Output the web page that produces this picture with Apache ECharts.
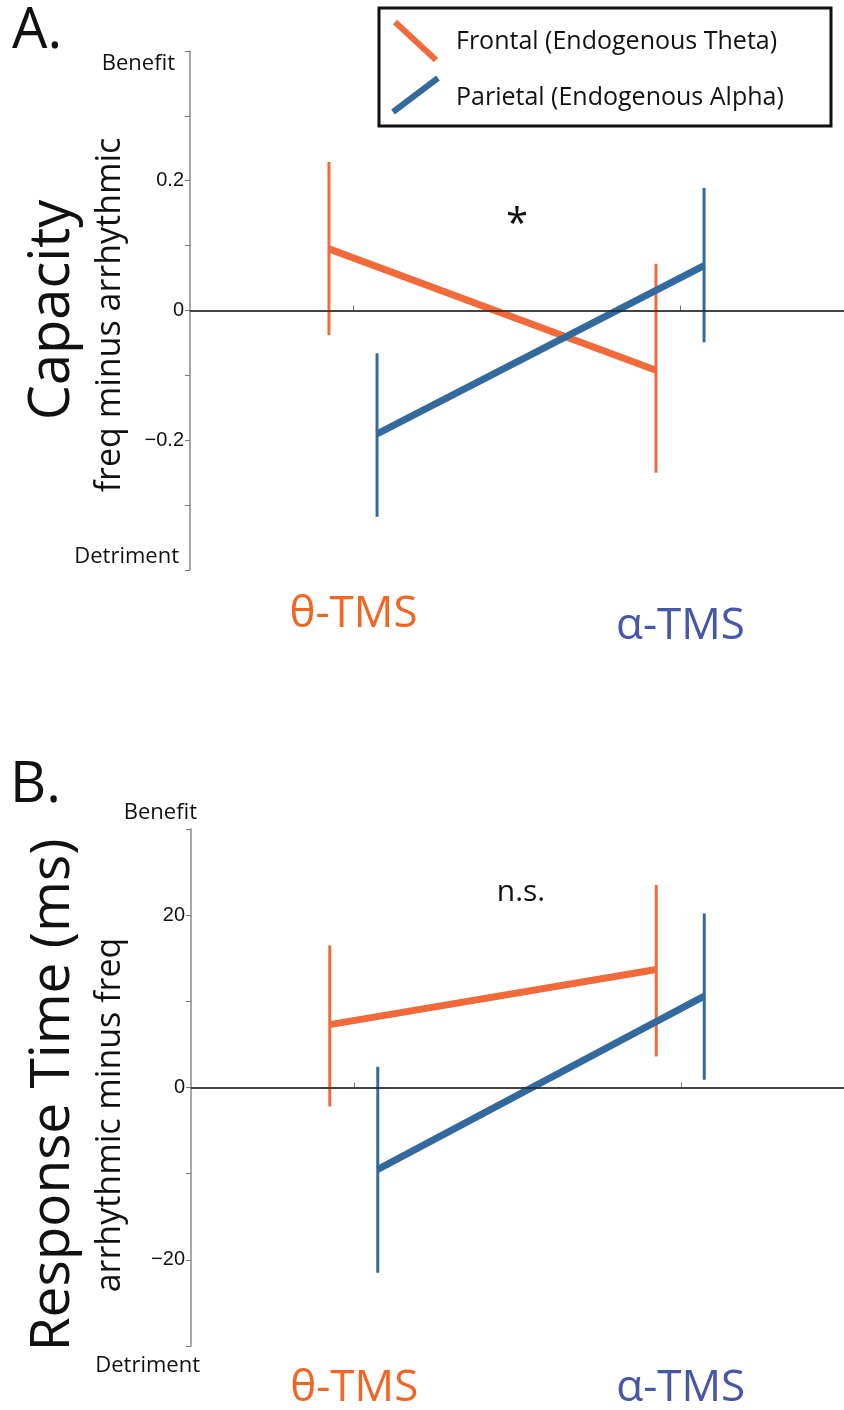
<!DOCTYPE html>
<html>
<head>
<meta charset="utf-8">
<script src="https://cdn.jsdelivr.net/npm/echarts@6/dist/echarts.min.js"></script>
<style>
  html, body { margin: 0; padding: 0; background: #fff; }
  #main { width: 844px; height: 1410px; }
</style>
</head>
<body>
<div id="main"></div>
<script>
// conditions on the x axis (1 = theta TMS, 2 = alpha TMS)
const conditions = ['θ-TMS', 'α-TMS'];
const conditionX = [1, 2];

// A. capacity, freq minus arrhythmic
const capFrontalMean = [0.095, -0.092];
const capFrontalLow = [-0.038, -0.25];
const capFrontalHigh = [0.229, 0.072];
const capParietalMean = [-0.19, 0.069];
const capParietalLow = [-0.318, -0.049];
const capParietalHigh = [-0.066, 0.189];
const capTickValues = [-0.2, 0, 0.2];
const capTickLabels = ['\u22120.2', '0', '0.2'];

// B. response time (ms), arrhythmic minus freq
const rtFrontalMean = [7.3, 13.7];
const rtFrontalLow = [-2.2, 3.6];
const rtFrontalHigh = [16.5, 23.5];
const rtParietalMean = [-9.5, 10.6];
const rtParietalLow = [-21.5, 0.9];
const rtParietalHigh = [2.4, 20.2];
const rtTickValues = [-20, 0, 20];
const rtTickLabels = ['\u221220', '0', '20'];

const ORANGE = '#f26a3a';
const BLUE = '#336a9e';
const frontalShift = -0.075;   // groups are drawn a bit apart
const parietalShift = 0.072;

const myChart = echarts.init(document.getElementById('main'));

function errorSeries(idx, shift, low, high, color) {
  return {
    type: 'custom',
    xAxisIndex: idx,
    yAxisIndex: idx,
    silent: true,
    encode: { x: 0, y: [1, 2] },
    data: conditionX.map((x, i) => [x + shift, low[i], high[i]]),
    renderItem: function (params, api) {
      const p1 = api.coord([api.value(0), api.value(1)]);
      const p2 = api.coord([api.value(0), api.value(2)]);
      return {
        type: 'line',
        shape: { x1: p1[0], y1: p1[1], x2: p2[0], y2: p2[1] },
        style: { stroke: color, lineWidth: 3 }
      };
    }
  };
}

function meanSeries(idx, shift, mean, color) {
  return {
    type: 'line',
    xAxisIndex: idx,
    yAxisIndex: idx,
    silent: true,
    symbol: 'none',
    lineStyle: { color: color, width: 7 },
    data: conditionX.map((x, i) => [x + shift, mean[i]])
  };
}

function zeroLine(idx) {
  return {
    type: 'line',
    xAxisIndex: idx,
    yAxisIndex: idx,
    data: [],
    markLine: {
      silent: true,
      symbol: 'none',
      label: { show: false },
      lineStyle: { color: '#222', width: 1.5, type: 'solid' },
      data: [{ yAxis: 0 }]
    }
  };
}

function xAxisFor(idx, margin, alphaPad) {
  return {
    type: 'value',
    gridIndex: idx,
    min: 0.5,
    max: 2.5,
    splitLine: { show: false },
    axisLine: { lineStyle: { color: '#8a8a8a', width: 1.5 } },
    axisTick: { customValues: conditionX, inside: true, length: 5, lineStyle: { color: '#777' } },
    axisLabel: {
      customValues: conditionX,
      margin: margin,
      formatter: function (v) {
        return v === 1 ? '{t|' + conditions[0] + '}' : '{a|' + conditions[1] + '}';
      },
      rich: {
        t: { color: '#f26522', fontSize: 44, fontFamily: '"Open Sans"' },
        a: { color: '#4557a6', fontSize: 44, fontFamily: '"Open Sans"', padding: [alphaPad, 0, 0, 0] }
      }
    }
  };
}

function yAxisFor(idx, min, max, step, tickValues, tickLabels) {
  return {
    type: 'value',
    gridIndex: idx,
    min: min,
    max: max,
    interval: step,
    splitLine: { show: false },
    axisLine: { lineStyle: { color: '#8a8a8a', width: 1.5 } },
    axisTick: { length: 5, lineStyle: { color: '#777' } },
    axisLabel: {
      customValues: tickValues,
      margin: 6,
      color: '#111',
      fontSize: 20,
      fontFamily: 'Liberation Sans',
      formatter: function (v) {
        let k = 0;
        tickValues.forEach((t, i) => { if (Math.abs(t - v) < Math.abs(tickValues[k] - v)) k = i; });
        return tickLabels[k];
      }
    }
  };
}

const txt = (x, y, text, font, align, extra) => Object.assign({
  type: 'text', x: x, y: y, silent: true,
  style: { text: text, font: font, fill: '#111', textAlign: align || 'left', textVerticalAlign: 'middle' }
}, extra || {});

const option = {
  backgroundColor: '#fff',
  animation: false,
  grid: [
    { left: 190, top: 51, width: 656, height: 519 },
    { left: 191, top: 829, width: 656, height: 518 }
  ],
  xAxis: [xAxisFor(0, 22, 12), xAxisFor(1, 20, 0)],
  yAxis: [
    yAxisFor(0, -0.4, 0.4, 0.1, capTickValues, capTickLabels),
    yAxisFor(1, -30, 30, 10, rtTickValues, rtTickLabels)
  ],
  series: [
    zeroLine(0),
    errorSeries(0, frontalShift, capFrontalLow, capFrontalHigh, ORANGE),
    meanSeries(0, frontalShift, capFrontalMean, ORANGE),
    errorSeries(0, parietalShift, capParietalLow, capParietalHigh, BLUE),
    meanSeries(0, parietalShift, capParietalMean, BLUE),
    zeroLine(1),
    errorSeries(1, frontalShift, rtFrontalLow, rtFrontalHigh, ORANGE),
    meanSeries(1, frontalShift, rtFrontalMean, ORANGE),
    errorSeries(1, parietalShift, rtParietalLow, rtParietalHigh, BLUE),
    meanSeries(1, parietalShift, rtParietalMean, BLUE)
  ],
  graphic: [
    // panel letters
    txt(12, 32, 'A.', '56px "Open Sans"'),
    txt(10, 786, 'B.', '56px "Open Sans"'),
    // axis end notes
    txt(175, 64, 'Benefit', '22px "Open Sans"', 'right'),
    txt(179, 557, 'Detriment', '22px "Open Sans"', 'right'),
    txt(197, 813, 'Benefit', '22px "Open Sans"', 'right'),
    txt(200, 1366, 'Detriment', '22px "Open Sans"', 'right'),
    // y titles
    txt(53, 310, 'Capacity', '56px "Open Sans"', 'center', { rotation: Math.PI / 2 }),
    txt(110, 315, 'freq minus arrhythmic', '34px "Open Sans"', 'center', { rotation: Math.PI / 2 }),
    txt(53, 1095, 'Response Time (ms)', '55px "Open Sans"', 'center', { rotation: Math.PI / 2 }),
    txt(110, 1115, 'arrhythmic minus freq', '34px "Open Sans"', 'center', { rotation: Math.PI / 2 }),
    // significance marks
    txt(517, 226, '*', '40px "Open Sans"', 'center'),
    txt(521, 892, 'n.s.', '30px "Open Sans"', 'center'),
    // legend box
    {
      type: 'rect', silent: true,
      shape: { x: 379, y: 8, width: 452, height: 118 },
      style: { fill: '#fff', stroke: '#111', lineWidth: 3 }
    },
    {
      type: 'line', silent: true,
      shape: { x1: 395, y1: 22, x2: 436, y2: 60 },
      style: { stroke: ORANGE, lineWidth: 6 }
    },
    {
      type: 'line', silent: true,
      shape: { x1: 393, y1: 112, x2: 438, y2: 78 },
      style: { stroke: BLUE, lineWidth: 6 }
    },
    txt(456, 42, 'Frontal (Endogenous Theta)', '25px "Open Sans"'),
    txt(456, 98, 'Parietal (Endogenous Alpha)', '25px "Open Sans"')
  ]
};

myChart.setOption(option);
</script>
</body>
</html>
